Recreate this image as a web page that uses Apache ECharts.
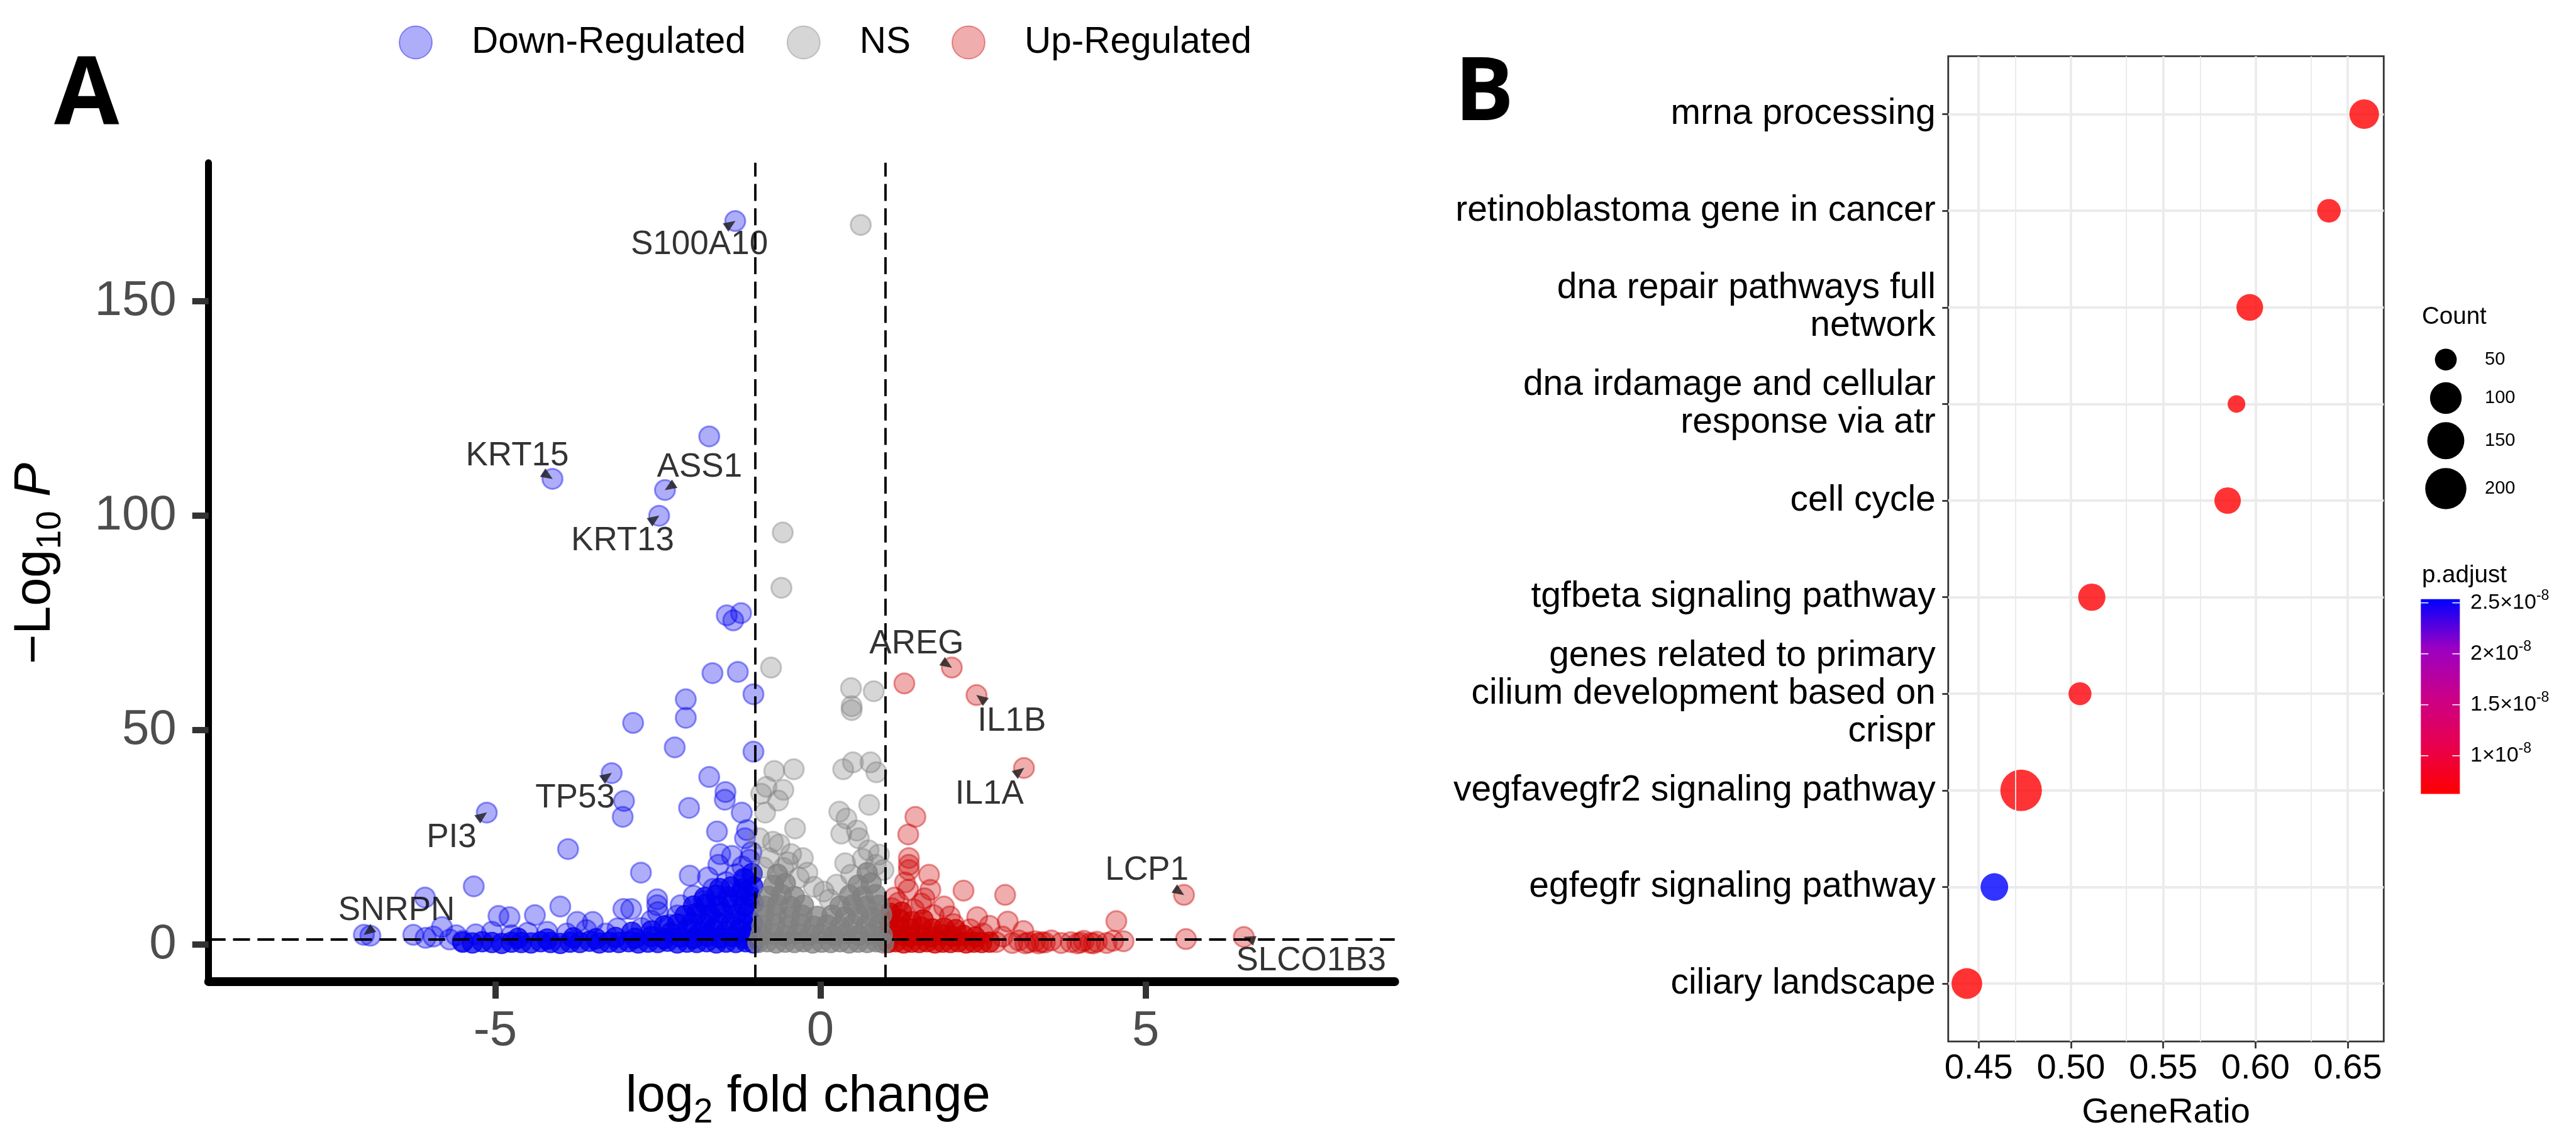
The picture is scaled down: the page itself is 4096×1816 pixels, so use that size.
<!DOCTYPE html>
<html><head><meta charset="utf-8">
<script src="https://cdn.jsdelivr.net/npm/echarts@6/dist/echarts.min.js"></script>
<style>html,body{margin:0;padding:0;background:#fff}#c{width:4096px;height:1816px}</style>
</head><body><div id="c"></div>
<script>
// ================= Panel A: volcano plot data [log2 fold change, -log10 P] =================
const downPts = [
 [-1.31,168.7],[-1.71,118.5],[-4.12,108.6],[-2.39,106.0],[-2.48,100.0],
 [-1.44,76.8],[-1.22,77.3],[-1.34,75.6],[-1.66,63.3],[-1.27,63.6],
 [-1.03,58.4],[-2.07,57.2],[-2.07,52.9],[-2.88,51.7],[-2.24,46.0],[-1.03,45.0],
 [-3.21,40.0],[-1.71,39.1],[-1.46,35.6],[-1.47,33.8],[-3.02,33.5],[-3.04,29.8],
 [-2.02,31.9],[-1.21,30.8],[-5.13,30.8],[-1.59,26.4],[-1.13,26.7],[-1.16,24.8],
 [-3.88,22.3],[-1.54,21.1],[-1.36,20.7],[-1.57,18.6],[-1.09,19.8],[-2.76,16.8],[-2.01,16.1],
 [-1.73,15.7],[-1.15,15.2],
 [-6.08,11.0],[-5.33,13.6],[-4.95,6.7],[-4.78,6.4],[-4.39,6.9],[-4.0,8.9],[-3.74,5.3],[-3.50,5.3],
 [-3.03,8.3],[-2.91,8.3],[-2.51,10.6],[-2.51,9.2],[-2.15,9.2],[-2.50,7.6],
 [-7.02,2.3],[-6.92,2.1],[-6.26,2.3],[-6.07,1.6],[-5.95,1.9],[-5.82,4.1],[-5.7,1.2],[-5.6,2.2],[-5.5,0.9],
 [-5.3,2.4],[-5.05,3.0],[-4.75,2.2],[-4.5,2.8],[-4.2,3.0],[-3.9,2.6],[-3.6,3.4],[-3.3,2.6],[-3.12,3.8],
 [-2.75,3.9],[-2.6,5.6],[-2.32,4.6],[-2.2,6.8],[-1.95,11.4],[-1.8,10.2],[-1.65,13.0],[-1.45,14.6],
 [-1.3,16.4],[-1.2,18.2],[-1.06,21.6],[-1.12,12.6],[-1.85,7.0],[-1.62,8.4]
];
const downCore = [
 [-5.5,0.6],[-5.35,0.4],[-5.2,0.7],[-5.05,0.5],[-4.9,0.3],[-4.75,0.6],[-4.6,0.5],[-4.45,0.4],[-4.3,0.7],
 [-4.15,0.5],[-4.0,0.3],[-3.85,0.6],[-3.7,0.5],[-3.55,0.8],[-3.4,0.4],[-3.25,0.6],[-3.1,0.5],[-2.95,0.7],
 [-2.8,0.4],[-2.65,0.6],[-2.5,0.5],[-2.35,0.8],[-2.2,0.4],[-2.05,0.6],[-1.9,0.5],[-1.75,0.7],[-1.6,0.4],
 [-1.45,0.6],[-1.3,0.5],[-1.15,0.7],[-1.03,0.4],
 [-4.65,1.5],[-4.2,1.3],[-3.8,1.6],[-3.45,1.4],[-3.15,1.7],[-2.85,1.5],[-2.6,1.9],[-2.4,1.4],[-2.15,1.8],
 [-1.95,1.5],[-1.75,2.0],[-1.55,1.6],[-1.35,1.9],[-1.18,1.5],[-1.04,1.8],
 [-2.9,2.9],[-2.6,3.2],[-2.3,2.8],[-2.05,3.4],[-1.85,3.0],[-1.65,3.6],[-1.45,3.1],[-1.25,3.5],[-1.08,3.0],
 [-2.4,4.4],[-2.2,4.8],[-1.98,5.1],[-1.78,4.7],[-1.58,5.2],[-1.38,4.8],[-1.2,5.3],[-1.04,4.9],
 [-2.08,6.8],[-1.9,7.3],[-1.7,6.9],[-1.5,7.4],[-1.3,7.0],[-1.12,7.3],
 [-1.95,9.0],[-1.76,9.4],[-1.56,9.0],[-1.36,9.5],[-1.18,9.1],[-1.03,9.6],
 [-1.78,11.0],[-1.6,11.5],[-1.42,11.1],[-1.24,11.6],[-1.08,11.2],
 [-1.55,13.1],[-1.37,13.5],[-1.2,13.0],[-1.04,13.6],
 [-1.18,15.4],[-1.05,16.6]
];
const nsPts = [
 [0.62,167.8],[-0.58,96.1],[-0.60,83.2],[-0.76,64.6],
 [0.47,59.8],[0.82,59.1],[0.48,55.6],[0.48,54.7],
 [0.35,40.9],[0.50,42.5],[0.77,42.5],[0.86,40.2],
 [0.75,32.6],[0.29,31.0],[0.40,29.4],[0.56,26.6],[0.32,25.9],[0.59,24.8],[0.74,22.0],[0.47,16.3],
 [0.97,17.4],[0.14,10.5],
 [-0.71,40.5],[-0.41,40.9],[-0.57,36.1],[-0.83,36.8],[-0.91,35.2],[-0.85,30.8],[-0.65,33.6],[-0.39,27.1],
 [-0.94,24.8],[-0.63,23.4],[-0.45,21.1],[-0.27,20.2],[-0.79,20.2],[-0.57,17.9],[-0.33,15.6],[-0.73,24.0],
 [-0.1,13.5],[0.05,12.4],[0.25,14.0],[0.9,21.0],[0.85,18.6],[0.38,19.0],[0.65,20.0],[-0.2,16.8],
 [-0.5,19.2],[-0.88,18.0]
];
const nsCore = [
 [-0.96,0.5],[-0.82,0.7],[-0.68,0.4],[-0.54,0.6],[-0.4,0.5],[-0.26,0.7],[-0.12,0.4],[0.02,0.6],[0.16,0.5],
 [0.3,0.7],[0.44,0.4],[0.58,0.6],[0.72,0.5],[0.86,0.7],[0.97,0.4],
 [-0.92,2.2],[-0.74,2.5],[-0.55,2.1],[-0.36,2.6],[-0.17,2.2],[0.02,2.5],[0.21,2.1],[0.4,2.6],[0.59,2.2],
 [0.78,2.5],[0.95,2.2],
 [-0.9,4.3],[-0.7,4.6],[-0.5,4.2],[-0.3,4.7],[-0.1,4.3],[0.1,4.6],[0.3,4.2],[0.5,4.7],[0.7,4.3],[0.9,4.6],
 [-0.88,6.6],[-0.68,7.0],[-0.48,6.5],[-0.28,6.9],[-0.05,6.6],[0.18,6.9],[0.38,6.5],[0.58,7.0],[0.78,6.6],[0.94,7.0],
 [-0.86,9.0],[-0.66,9.3],[-0.46,8.9],[-0.26,9.2],[0.3,9.0],[0.5,9.3],[0.7,8.9],[0.9,9.2],
 [-0.8,11.3],[-0.6,11.7],[-0.4,11.2],[0.45,11.5],[0.65,11.2],[0.85,11.7],
 [-0.72,13.8],[-0.54,14.3],[0.58,13.9],[0.78,14.4],
 [-0.66,16.4],[0.72,16.8]
];
const upPts = [
 [2.02,64.6],[1.29,60.9],[2.40,58.2],[3.13,41.2],[1.46,29.8],[1.35,25.7],[1.36,20.2],[1.36,18.6],[1.36,17.4],
 [1.67,16.3],[1.69,12.8],[1.35,12.8],[2.20,12.6],[2.84,11.6],[1.14,11.0],[2.41,6.4],[2.88,5.4],[4.55,5.5],
 [3.12,3.2],[1.99,6.6],[1.44,8.2],[1.74,6.9],[5.59,11.6],[6.51,1.8],[5.62,1.3],[4.66,0.8],
 [2.7,0.6],[2.8,1.9],[2.95,0.4],[3.05,1.0],[3.15,0.3],[3.3,0.8],[3.35,0.3],[3.45,0.5],[3.55,1.0],[3.7,0.4],
 [3.85,0.6],[3.95,0.3],[4.05,0.9],[4.15,0.4],[4.25,0.7],[4.4,0.4],[4.5,0.9],[3.2,0.5],[3.4,0.6],[4.0,0.5],[4.2,0.3],
 [1.1,8.5],[1.2,9.8],[1.55,9.6],[1.9,8.9],[2.05,4.8],[2.3,3.6],[2.5,2.6],[2.6,4.4],[1.3,14.5],[1.6,10.8]
];
const upCore = [
 [1.04,0.5],[1.16,0.7],[1.28,0.4],[1.4,0.6],[1.52,0.5],[1.64,0.7],[1.76,0.4],[1.88,0.6],[2.0,0.5],
 [2.12,0.7],[2.24,0.4],[2.36,0.6],[2.48,0.5],[2.6,0.6],
 [1.06,2.0],[1.22,2.3],[1.38,1.9],[1.54,2.2],[1.7,1.9],[1.86,2.3],[2.02,2.0],[2.2,2.2],[2.38,1.8],
 [1.06,3.7],[1.22,4.0],[1.38,3.6],[1.55,4.1],[1.72,3.7],[1.9,3.9],[2.08,3.5],
 [1.06,5.5],[1.22,5.9],[1.4,5.4],[1.58,5.8],
 [1.08,7.3],[1.25,7.6]
];
const labelGenes = ['S100A10','KRT15','ASS1','KRT13','AREG','IL1B','IL1A','TP53','PI3','SNRPN','LCP1','SLCO1B3'];
const labelVals = [[-1.31,168.7],[-4.12,108.6],[-2.39,106.0],[-2.48,100.0],[2.02,64.6],[2.40,58.2],
                   [3.13,41.2],[-3.21,40.0],[-5.13,30.8],[-7.02,2.3],[5.59,11.6],[6.51,1.8]];
const fcCutoff = [-1, 1];
const pCutoff = 1.301;
const xTicksA = [-5, 0, 5];
const yTicksA = [0, 50, 100, 150];
const legendA = ['Down-Regulated', 'NS', 'Up-Regulated'];

// ================= Panel B: enrichment dot plot =================
const terms = ['mrna processing', 'retinoblastoma gene in cancer', 'dna repair pathways full\nnetwork',
  'dna irdamage and cellular\nresponse via atr', 'cell cycle', 'tgfbeta signaling pathway',
  'genes related to primary\ncilium development based on\ncrispr', 'vegfavegfr2 signaling pathway',
  'egfegfr signaling pathway', 'ciliary landscape'];
const geneRatio = [0.6589, 0.6398, 0.5969, 0.5897, 0.5849, 0.5113, 0.5049, 0.4730, 0.4585, 0.4436];
const counts    = [85, 55, 68, 45, 67, 71, 53, 205, 73, 93];
const padj      = [6.3e-9, 6.4e-9, 6.26e-9, 6.6e-9, 6.3e-9, 6.5e-9, 6.7e-9, 6.4e-9, 2.536e-8, 6.3e-9];
const ratioTicks = [0.45, 0.50, 0.55, 0.60, 0.65];
const ratioMinor = [0.475, 0.525, 0.575, 0.625];
const countBreaks = [50, 100, 150, 200];
const padjBreaks = [2.5e-8, 2e-8, 1.5e-8, 1e-8];
const padjBreakText = ['2.5', '2', '1.5', '1'];

// ================= styles =================
const FONT = 'Liberation Sans';
const C_DOWN = '0,0,238', C_NS = '128,128,128', C_UP = '205,0,0';
const light = rgb => ({color: `rgba(${rgb},0.4)`, borderColor: `rgba(${rgb},0.5)`, borderWidth: 3});
const core = rgb => ({color: `rgba(${rgb},0.9)`, borderColor: `rgba(${rgb},0.9)`, borderWidth: 2});
const PT = 32;
function volc(name, data, style) {
  return {type: 'scatter', name, xAxisIndex: 0, yAxisIndex: 0, data, symbolSize: PT,
          itemStyle: style, silent: true, emphasis: {disabled: true}};
}
const labelOffsets = {S100A10: [-57, 38], KRT15: [-56, -36], ASS1: [55, -36], KRT13: [-58, 40],
  AREG: [-56, -37], IL1B: [56, 42], IL1A: [-55, 42], TP53: [-58, 40], PI3: [-56, 40],
  SNRPN: [52, -38], LCP1: [-59, -39], SLCO1B3: [107, 38]};
const labelData = labelGenes.map((g, i) => ({name: g, value: labelVals[i], label: {offset: labelOffsets[g]}}));
const arrowData = labelGenes.map((g, i) => {
  const o = labelOffsets[g], L = Math.hypot(o[0], o[1]), ux = o[0] / L, uy = o[1] / L;
  return {name: g, value: labelVals[i], symbolRotate: Math.atan2(ux, uy) * 180 / Math.PI, symbolOffset: [ux * 9, uy * 9]};
});

const cMin = Math.min(...counts), cMax = Math.max(...counts);
const sizeFn = c => 28.0 + 38.1 * Math.sqrt(Math.max(0, (c - cMin) / (cMax - cMin)));
const pMin = Math.min(...padj), pMax = Math.max(...padj);
const padjColors = ['#FF0000', '#E8004F', '#CA0089', '#9A00C3', '#0000FF'];
const bData = geneRatio.map((r, i) => [r, i, counts[i], padj[i]]);
const termIdx = terms.map((t, i) => i);

// legend/colourbar geometry (window px)
const CB = {x: 3849.3, y: 952.8, w: 62, h: 309.6};
const cbY = v => CB.y + CB.h * (pMax - v) / (pMax - pMin);
const countLegendY = [571.8, 633, 700.8, 777];

const graphics = [
  {type: 'text', x: 86, y: 155, style: {text: 'A', fontSize: 150, fontWeight: 'bold', fontFamily: 'Open Sans', fill: '#000', verticalAlign: 'middle'}},
  {type: 'text', x: 2313, y: 151, style: {text: 'B', fontSize: 140, fontWeight: 'bold', fontFamily: 'Open Sans', fill: '#000', verticalAlign: 'middle'}},
  {type: 'text', x: 3851, y: 504, style: {text: 'Count', fontSize: 38.5, fontFamily: FONT, fill: '#000', verticalAlign: 'middle'}},
  {type: 'text', x: 3851, y: 915, style: {text: 'p.adjust', fontSize: 38.5, fontFamily: FONT, fill: '#000', verticalAlign: 'middle'}},
  {type: 'rect', shape: {x: CB.x, y: CB.y, width: CB.w, height: CB.h}, style: {fill: {type: 'linear', x: 0, y: 1, x2: 0, y2: 0,
     colorStops: padjColors.map((c, i) => ({offset: i / (padjColors.length - 1), color: c}))}}}
];
countBreaks.forEach((c, i) => {
  graphics.push({type: 'circle', shape: {cx: 3889, cy: countLegendY[i], r: sizeFn(c) / 2}, style: {fill: '#000'}});
  graphics.push({type: 'text', x: 3951, y: countLegendY[i], style: {text: String(c), fontSize: 29, fontFamily: FONT, fill: '#000', verticalAlign: 'middle'}});
});
padjBreaks.forEach((v, i) => {
  const y = cbY(v);
  graphics.push({type: 'line', shape: {x1: CB.x, y1: y, x2: CB.x + 12, y2: y}, style: {stroke: '#fff', lineWidth: 1.5}});
  graphics.push({type: 'line', shape: {x1: CB.x + CB.w - 12, y1: y, x2: CB.x + CB.w, y2: y}, style: {stroke: '#fff', lineWidth: 1.5}});
  graphics.push({type: 'text', x: 3928, y: y, style: {text: padjBreakText[i] + '×10{s|-8}', fontSize: 34, fontFamily: FONT, fill: '#000',
     verticalAlign: 'middle', rich: {s: {fontSize: 23, fontFamily: FONT, fill: '#000', padding: [0, 0, 22, 0]}}}});
});

const option = {
  animation: false,
  backgroundColor: '#fff',
  textStyle: {fontFamily: FONT},
  legend: {
    data: legendA, left: 629, top: 33, itemWidth: 52, itemHeight: 52, icon: 'circle', itemGap: 65,
    selectedMode: false,
    textStyle: {fontSize: 58.5, color: '#000', fontFamily: FONT, padding: [0, 0, 0, 58]}
  },
  grid: [
    {left: 331.7, top: 258.8, width: 1886, height: 1302.3, show: false},
    {left: 3097.8, top: 89.4, width: 692.5, height: 1566.8, show: true, borderColor: '#333', borderWidth: 2.8, backgroundColor: 'transparent'}
  ],
  xAxis: [
    {gridIndex: 0, type: 'value', min: -9.407, max: 8.83,
     axisLine: {onZero: false, lineStyle: {color: '#000', width: 14}},
     axisTick: {customValues: xTicksA, length: 27, lineStyle: {color: '#333', width: 10}},
     axisLabel: {customValues: xTicksA, fontSize: 78, color: '#4D4D4D', margin: 40, fontFamily: FONT},
     splitLine: {show: false},
     name: '{n|log}{s|2}{n| fold change}', nameLocation: 'middle', nameGap: 131,
     nameTextStyle: {padding: [0, 0, 0, 20], rich: {
       n: {fontSize: 81, color: '#000', fontFamily: FONT},
       s: {fontSize: 55, color: '#000', fontFamily: FONT, padding: [50, 0, 0, 0]}}}},
    {gridIndex: 1, type: 'value', min: 0.4335, max: 0.6695, position: 'bottom',
     axisLine: {show: false, onZero: false},
     axisTick: {customValues: ratioTicks, length: 11, lineStyle: {color: '#333', width: 2.8}},
     axisLabel: {customValues: ratioTicks, fontSize: 56, color: '#000', margin: 15, fontFamily: FONT, formatter: v => v.toFixed(2)},
     splitLine: {show: true, lineStyle: {color: '#EBEBEB', width: 3.8}},
     name: 'GeneRatio', nameLocation: 'middle', nameGap: 85,
     nameTextStyle: {fontSize: 56, color: '#000', fontFamily: FONT}}
  ],
  yAxis: [
    {gridIndex: 0, type: 'value', min: -8.63, max: 182.3,
     axisLine: {onZero: false, lineStyle: {color: '#000', width: 11}},
     axisTick: {customValues: yTicksA, length: 26, lineStyle: {color: '#333', width: 10}},
     axisLabel: {customValues: yTicksA, fontSize: 78, color: '#4D4D4D', margin: 51, fontFamily: FONT},
     splitLine: {show: false},
     name: '{n|\u2212Log}{s|10}{i| P}', nameLocation: 'middle', nameGap: 223, nameRotate: 90,
     nameTextStyle: {padding: [0, 0, 0, 28], rich: {
       n: {fontSize: 81, color: '#000', fontFamily: FONT},
       s: {fontSize: 55, color: '#000', fontFamily: FONT, padding: [50, 0, 0, 0]},
       i: {fontSize: 81, color: '#000', fontFamily: FONT, fontStyle: 'italic'}}}},
    {gridIndex: 1, type: 'value', inverse: true, min: -0.6, max: 9.6, position: 'left',
     axisLine: {show: false, onZero: false},
     axisTick: {customValues: termIdx, length: 9.5, lineStyle: {color: '#333', width: 2.8}},
     axisLabel: {customValues: termIdx, fontSize: 57, color: '#000', margin: 20, lineHeight: 60, align: 'right',
                 fontFamily: FONT, formatter: v => terms[Math.round(v)]},
     splitLine: {show: true, lineStyle: {color: '#EBEBEB', width: 3.8}}}
  ],
  visualMap: [{type: 'continuous', show: false, seriesIndex: 9, dimension: 3, min: pMin, max: pMax,
               inRange: {color: padjColors}}],
  series: [
    volc('Down-Regulated', downPts, light(C_DOWN)),
    volc('Down-Regulated', downCore, core(C_DOWN)),
    volc('Up-Regulated', upPts, light(C_UP)),
    volc('Up-Regulated', upCore, core(C_UP)),
    volc('NS', nsPts, light(C_NS)),
    volc('NS', nsCore, core(C_NS)),
    {type: 'scatter', name: 'arrows', xAxisIndex: 0, yAxisIndex: 0, data: arrowData, symbol: 'triangle',
     symbolSize: [16, 19], itemStyle: {color: '#1a1a1a'}, silent: true, z: 4},
    {type: 'scatter', name: 'labels', xAxisIndex: 0, yAxisIndex: 0, data: labelData, symbolSize: 2,
     itemStyle: {color: 'rgba(0,0,0,0)'}, silent: true, z: 4,
     label: {show: true, formatter: '{b}', position: 'inside', fontSize: 53, color: '#000', fontFamily: FONT},
     markLine: {silent: true, symbol: 'none', label: {show: false},
       lineStyle: {color: '#000', width: 3.8, type: [27, 11.8]},
       data: fcCutoff.map(v => ({xAxis: v})).concat([{yAxis: pCutoff}])}},
    {type: 'scatter', name: 'minorGrid', xAxisIndex: 1, yAxisIndex: 1, data: [], z: 1, silent: true,
     markLine: {silent: true, symbol: 'none', label: {show: false},
       lineStyle: {color: '#EBEBEB', width: 1.9, type: 'solid'},
       data: ratioMinor.map(v => ({xAxis: v}))}},
    {type: 'scatter', name: 'enrichment', xAxisIndex: 1, yAxisIndex: 1, data: bData, z: 3, silent: true,
     symbolSize: v => sizeFn(v[2])}
  ],
  graphic: {elements: graphics}
};
const chart = echarts.init(document.getElementById('c'));
chart.setOption(option);
</script>
</body></html>
